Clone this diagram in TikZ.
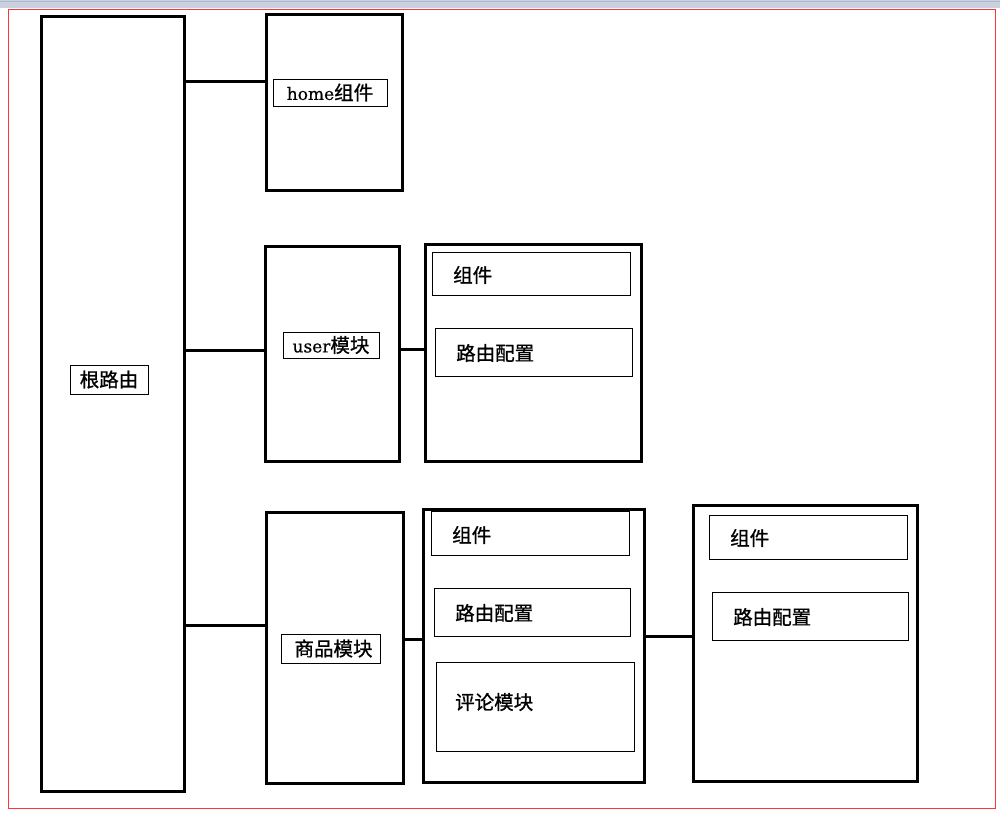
\documentclass[tikz,border=0pt]{standalone}
\usepackage{fontspec}
\setmainfont{DejaVu Serif}
\newfontfamily\cjk[FakeBold=0.9]{Noto Sans CJK SC}
\newfontfamily\latn[FakeBold=0.5]{DejaVu Serif}
\definecolor{barfill}{RGB}{201,209,223}
\definecolor{barline}{RGB}{170,182,201}
\definecolor{frame}{RGB}{250,55,55}
\begin{document}
\begin{tikzpicture}[x=1pt,y=-1pt,
  outerbox/.style={draw=black, line width=3pt, rectangle, inner sep=0pt, outer sep=0pt, anchor=north west},
  innerbox/.style={draw=black, line width=0.9pt, rectangle, inner sep=0pt, outer sep=0pt, anchor=north west},
  tagbox/.style={draw=black, line width=0.9pt, rectangle, inner sep=0pt, outer sep=0pt,
    font=\cjk\fontsize{19.5}{20}\selectfont},
  label/.style={anchor=west, inner sep=0pt, font=\cjk\fontsize{19.5}{20}\selectfont},
  conn/.style={line width=3pt}
]
\useasboundingbox (0,0) rectangle (1000,815);
\fill[white] (0,0) rectangle (1000,815);
% window strip and page frame
\fill[barfill] (0,0) rectangle (1000,7.5);
\draw[barline, line width=1.2pt] (0,1.8) -- (1000,1.8);
\draw[frame, line width=1pt] (8.5,9.5) rectangle (995.5,808.5);

% main column boxes
\node[outerbox, minimum width=143, minimum height=775] (root) at (41,16) {};
\node[outerbox, minimum width=136, minimum height=176] (home) at (266,14.5) {};
\node[outerbox, minimum width=134, minimum height=214.5] (user) at (265.5,246.5) {};
\node[outerbox, minimum width=136.5, minimum height=271.5] (goods) at (266.5,512) {};

% module detail boxes
\node[outerbox, minimum width=216, minimum height=217] (ubox) at (425,244.5) {};
\node[outerbox, minimum width=220.5, minimum height=273] (mbox) at (423.5,509) {};
\node[outerbox, minimum width=223.5, minimum height=276] (rbox) at (693.5,505) {};

% tags on the main column
\node[tagbox, minimum width=78, minimum height=29] (roottag) at (109,379.5) {根路由};
\node[tagbox, minimum width=114, minimum height=27] (hometag) at (330,92.5)
  {{\latn\fontsize{17}{17}\selectfont home}组件};
\node[tagbox, minimum width=96, minimum height=26] (usertag) at (331,345)
  {{\latn\fontsize{17}{17}\selectfont user}模块};
\node[tagbox, minimum width=99, minimum height=29] (goodstag) at (330.5,648.5) {\hspace{6pt}商品模块};

% inner entries
\node[innerbox, minimum width=198, minimum height=43] (c1) at (432,252) {};
\node[innerbox, minimum width=197, minimum height=48] (r1) at (435,328) {};
\node[innerbox, minimum width=198, minimum height=44] (c2) at (431,511) {};
\node[innerbox, minimum width=196, minimum height=47.5] (r2) at (434,588.5) {};
\node[innerbox, minimum width=198, minimum height=89] (p2) at (436,662) {};
\node[innerbox, minimum width=198, minimum height=43.5] (c3) at (709,515.5) {};
\node[innerbox, minimum width=196, minimum height=48] (r3) at (712,592) {};

\node[label] (c1t) at (453,275) {组件};
\node[label] (r1t) at (456,353) {路由配置};
\node[label] (c2t) at (452,535) {组件};
\node[label] (r2t) at (455,613) {路由配置};
\node[label] (p2t) at (455,702) {评论模块};
\node[label] (c3t) at (730,538) {组件};
\node[label] (r3t) at (733,617) {路由配置};

% connectors
\draw[conn] (root.east |- 0,81) -- (home.west |- 0,81);
\draw[conn] (root.east |- 0,350) -- (user.west |- 0,350);
\draw[conn] (root.east |- 0,625) -- (goods.west |- 0,625);
\draw[conn] (user.east |- 0,349) -- (ubox.west |- 0,349);
\draw[conn] (goods.east |- 0,639) -- (mbox.west |- 0,639);
\draw[conn] (mbox.east |- 0,636) -- (rbox.west |- 0,636);
\end{tikzpicture}
\end{document}
